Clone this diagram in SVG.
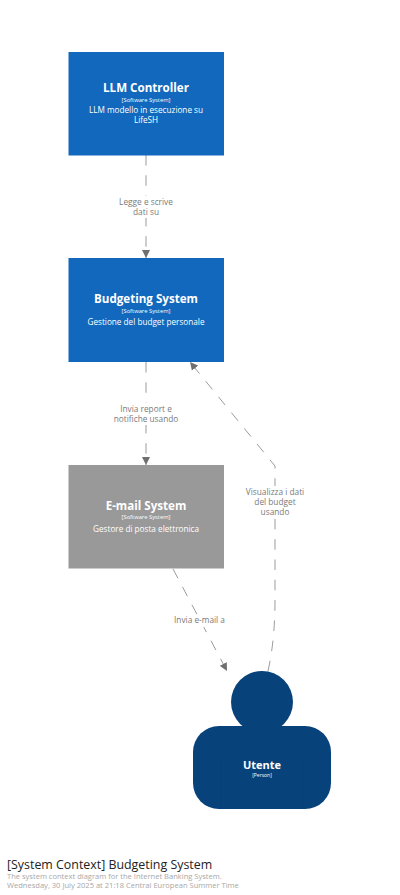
<svg xmlns="http://www.w3.org/2000/svg" width="400" height="895" viewBox="0 0 400 895">
<style>
text{font-family:"Open Sans","Noto Sans","Liberation Sans",sans-serif;text-anchor:middle}
.n{font-size:11.600px;font-weight:700;fill:#fff}
.t{font-size:5.800px;fill:#fff}
.p{font-size:5px;fill:#fff}
.d{font-size:8.200px;fill:#fff}
.l{font-size:8.300px;fill:#7a7a7a}
.c{fill:none;stroke:#707070;stroke-width:.7;stroke-dasharray:10.500 9.800}
.lb{fill:#fff}
.s{text-anchor:start}
</style>
<defs><marker id="a" markerUnits="userSpaceOnUse" markerWidth="9" markerHeight="9" refX="8" refY="4.500" orient="auto"><path d="M0 0.500L8 4.500L0 8.500z" fill="#707070"/></marker></defs>
<rect width="400" height="895" fill="#fff"/>
<g id="connectors">
<path class="c" d="M146 155V258" marker-end="url(#a)"/>
<path class="c" d="M146 362V465" marker-end="url(#a)"/>
<path class="c" d="M173 569L227 671" marker-end="url(#a)"/>
<path class="c" d="M268 671Q275 640 275 600V466L190 362" marker-end="url(#a)"/>
<rect class="lb" x="116" y="196" width="60" height="22"/>
<text class="l" x="146" y="205">Legge e scrive</text><text class="l" x="146" y="215">dati su</text>
<rect class="lb" x="112" y="403" width="68" height="22"/>
<text class="l" x="146" y="412">Invia report e</text><text class="l" x="146" y="422">notifiche usando</text>
<rect class="lb" x="174" y="615" width="52" height="12"/>
<text class="l" x="199.500" y="623">Invia e-mail a</text>
<rect class="lb" x="245" y="486" width="62" height="32"/>
<text class="l" x="275" y="494.500">Visualizza i dati</text><text class="l" x="275" y="504.500">del budget</text><text class="l" x="275" y="514.500">usando</text>
</g>
<g id="llm-controller"><rect x="68.500" y="52" width="155.500" height="103.500" fill="#1168bd"/>
<text class="n" x="146" y="91.500">LLM Controller</text><text class="t" x="146" y="101.500">[Software System]</text><text class="d" x="146" y="113">LLM modello in esecuzione su</text><text class="d" x="146" y="123">LifeSH</text></g>
<g id="budgeting-system"><rect x="68.500" y="258" width="155.500" height="104" fill="#1168bd"/>
<text class="n" x="146" y="303">Budgeting System</text><text class="t" x="146" y="312.500">[Software System]</text><text class="d" x="146" y="325">Gestione del budget personale</text></g>
<g id="email-system"><rect x="68.500" y="465" width="155.500" height="103.500" fill="#999"/>
<text class="n" x="146" y="510">E-mail System</text><text class="t" x="146" y="518.500">[Software System]</text><text class="d" x="146" y="532">Gestore di posta elettronica</text></g>
<g id="utente"><rect x="193" y="726" width="138" height="83" rx="26" fill="#08427b"/>
<circle cx="262" cy="702" r="31" fill="#08427b"/>
<path d="M220.700 760V809M303.300 760V809" fill="none" stroke="#073e74" stroke-width=".4"/>
<text class="n" style="font-size:11px" x="262" y="769">Utente</text><text class="p" x="262" y="777">[Person]</text></g>
<g id="title"><text class="s" x="7" y="868.500" font-size="12.400" fill="#222">[System Context] Budgeting System</text>
<text class="s" x="7" y="879" font-size="7.550" fill="#a8a8a8">The system context diagram for the Internet Banking System.</text>
<text class="s" x="7" y="888" font-size="7.550" fill="#a8a8a8">Wednesday, 30 July 2025 at 21:18 Central European Summer Time</text></g>
</svg>
